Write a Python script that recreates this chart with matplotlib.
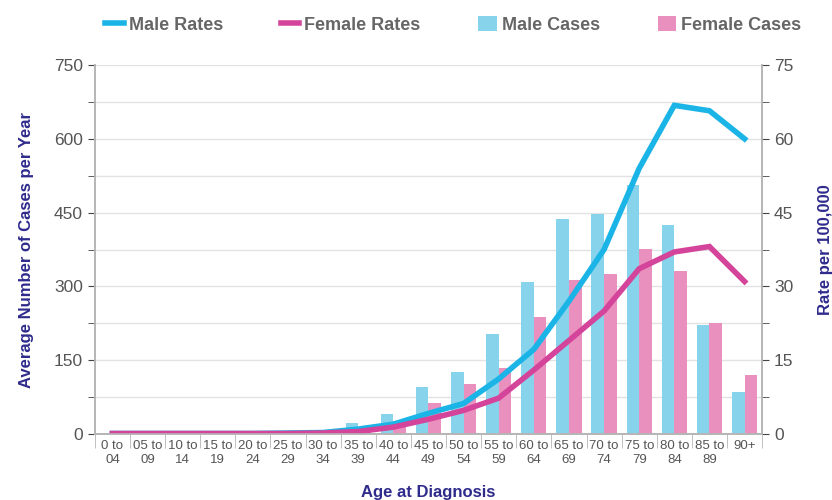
import matplotlib.pyplot as plt
import numpy as np

plt.rcParams['font.family'] = ['Liberation Sans', 'DejaVu Sans']

ages = ['0 to\n04', '05 to\n09', '10 to\n14', '15 to\n19', '20 to\n24', '25 to\n29',
        '30 to\n34', '35 to\n39', '40 to\n44', '45 to\n49', '50 to\n54', '55 to\n59',
        '60 to\n64', '65 to\n69', '70 to\n74', '75 to\n79', '80 to\n84', '85 to\n89', '90+']
male_cases = [0, 0, 0, 0, 1, 2, 4, 22, 41, 96, 126, 203, 309, 436, 447, 506, 425, 221, 85]
female_cases = [0, 0, 0, 0, 1, 1, 3, 9, 27, 63, 102, 134, 238, 313, 325, 376, 332, 226, 120]
male_rates = [0.1, 0.1, 0.1, 0.1, 0.1, 0.2, 0.3, 1.0, 2.0, 4.2, 6.2, 11.2, 17.2, 27.0, 37.5, 54.0, 66.8, 65.7, 60.0]
female_rates = [0.1, 0.1, 0.1, 0.1, 0.1, 0.1, 0.2, 0.5, 1.4, 3.0, 4.8, 7.3, 13.0, 19.0, 25.0, 33.6, 37.0, 38.1, 31.0]

c_mline = '#1ab4e6'
c_fline = '#d4449b'
c_mbar = '#87d3ec'
c_fbar = '#e990be'
c_lab = '#2f2b8c'
c_tick = '#555555'
c_grid = '#e2e2e2'
c_spine = '#b5b5b5'

fig = plt.figure(figsize=(8.32, 5), dpi=100)
ax = fig.add_axes([0.114, 0.132, 0.802, 0.738])
ax2 = ax.twinx()

x = np.arange(len(ages))
w = 0.36
ax.bar(x - w / 2, male_cases, w, color=c_mbar, label='Male Cases', zorder=2)
ax.bar(x + w / 2, female_cases, w, color=c_fbar, label='Female Cases', zorder=2)

ax2.plot(x, male_rates, color=c_mline, lw=4, label='Male Rates', solid_joinstyle='miter')
ax2.plot(x, female_rates, color=c_fline, lw=4, label='Female Rates', solid_joinstyle='miter')

ax.set_xlim(-0.5, len(ages) - 0.5)
ax.set_ylim(0, 750)
ax2.set_ylim(0, 75)
ax.set_yticks(np.arange(0, 751, 150))
ax.set_yticks(np.arange(0, 751, 75), minor=True)
ax2.set_yticks(np.arange(0, 76, 15))
ax2.set_yticks(np.arange(0, 76, 7.5), minor=True)
ax.yaxis.grid(True, which='both', color=c_grid, lw=1, zorder=0)
ax.set_axisbelow(True)

ax.set_xticks(x)
ax.set_xticklabels(ages, fontsize=9.5, color=c_tick, linespacing=1.25)
ax.set_xticks(np.arange(-0.5, len(ages), 1), minor=True)
ax.tick_params(axis='x', which='major', length=0, pad=4)
ax.tick_params(axis='x', which='minor', length=10, color=c_spine)
ax.tick_params(axis='y', which='both', length=5, color='#444444', labelsize=12.5, labelcolor=c_tick)
ax2.tick_params(axis='y', which='both', length=5, color='#444444', labelsize=12.5, labelcolor=c_tick)

for a in (ax, ax2):
    a.spines['top'].set_visible(False)
    for s in ('left', 'right', 'bottom'):
        a.spines[s].set_color(c_spine)
        a.spines[s].set_linewidth(1.2)

ax.set_ylabel('Average Number of Cases per Year', fontsize=12, fontweight='bold', color=c_lab, labelpad=14)
ax2.set_ylabel('Rate per 100,000', fontsize=12, fontweight='bold', color=c_lab, labelpad=18)
ax.set_xlabel('Age at Diagnosis', fontsize=12, fontweight='bold', color=c_lab, labelpad=14)

h1, l1 = ax2.get_legend_handles_labels()
h2, l2 = ax.get_legend_handles_labels()
leg = fig.legend(h1 + h2, l1 + l2, loc='upper center', bbox_to_anchor=(0.545, 1.0), ncol=4,
                 frameon=False, fontsize=13, handlelength=1.0, handleheight=0.9,
                 handletextpad=0.3, columnspacing=3.2)
for t in leg.get_texts():
    t.set_color('#666666')
    t.set_fontweight('bold')

fig.savefig('out.png', dpi=100)
